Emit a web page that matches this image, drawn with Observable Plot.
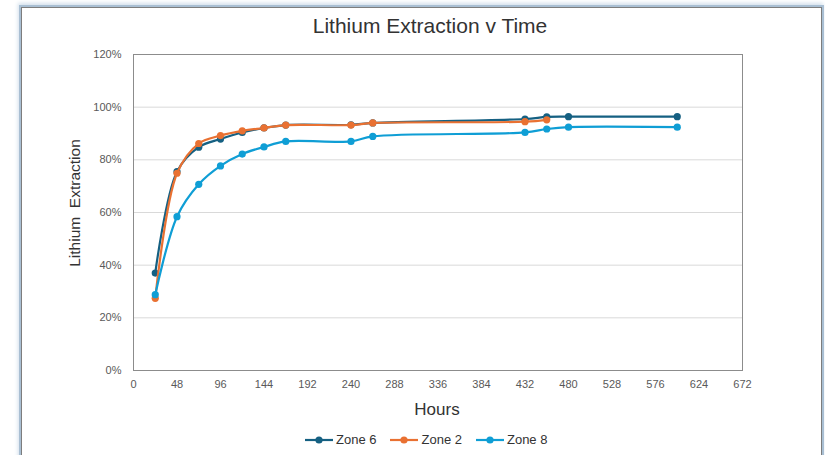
<!DOCTYPE html>
<html>
<head>
<meta charset="utf-8">
<script src="https://cdn.jsdelivr.net/npm/d3@7"></script>
<script src="https://cdn.jsdelivr.net/npm/@observablehq/plot@0.6"></script>
<style>
  html, body { margin: 0; padding: 0; background: #fff; }
  #wrap { position: relative; width: 825px; height: 455px; overflow: hidden; font-family: "Liberation Sans", Arial, sans-serif; }
  #border { position: absolute; left: 21px; top: 7px; width: 799px; height: 470px; border: 1px solid #7d7d7d; box-shadow: 0 0 0 2px #a9bfd3, -1px -2px 4px 2px #d3e0ec; pointer-events: none; }
  #title { position: absolute; left: 0; width: 860px; top: 14px; text-align: center; font-family: "Liberation Sans Narrow", "Liberation Sans", Arial, sans-serif; font-size: 21px; color: #333; }
  #ytitle { position: absolute; left: 75px; top: 203px; transform: translate(-50%, -50%) rotate(-90deg); white-space: pre; font-size: 15.5px; color: #333; }
  #xtitle { position: absolute; left: 437px; top: 410px; transform: translate(-50%, -50%); font-size: 17px; color: #333; }
  #legend { position: absolute; left: 305px; top: 432px; display: flex; align-items: center; font-size: 13px; color: #333; }
  #legend .item { display: flex; align-items: center; margin-right: 14px; }
  #legend svg { margin-right: 3px; }
  #chart { position: absolute; left: 0; top: 0; }
</style>
</head>
<body>
<div id="wrap">
  <div id="chart"></div>
  <div id="title">Lithium Extraction v Time</div>
  <div id="ytitle">Lithium  Extraction</div>
  <div id="xtitle">Hours</div>
  <div id="legend"></div>
  <div id="border"></div>
</div>
<script>
const seriesNames = ["Zone 6", "Zone 2", "Zone 8"];
const seriesColors = ["#156082", "#E97132", "#0F9ED5"];

const hoursZone6 = [24, 48, 72, 96, 120, 144, 168, 240, 264, 432, 456, 480, 600];
const zone6 = [0.370, 0.755, 0.848, 0.879, 0.904, 0.921, 0.932, 0.933, 0.940, 0.955, 0.963, 0.964, 0.964];

const hoursZone2 = [24, 48, 72, 96, 120, 144, 168, 240, 264, 432, 456];
const zone2 = [0.274, 0.749, 0.862, 0.892, 0.910, 0.921, 0.932, 0.932, 0.940, 0.945, 0.952];

const hoursZone8 = [24, 48, 72, 96, 120, 144, 168, 240, 264, 432, 456, 480, 600];
const zone8 = [0.288, 0.584, 0.707, 0.777, 0.822, 0.849, 0.870, 0.870, 0.889, 0.904, 0.917, 0.924, 0.924];

const xTicks = [0, 48, 96, 144, 192, 240, 288, 336, 384, 432, 480, 528, 576, 624, 672];
const yTicks = [0, 0.2, 0.4, 0.6, 0.8, 1.0, 1.2];

const seriesHours = [hoursZone6, hoursZone2, hoursZone8];
const seriesValues = [zone6, zone2, zone8];

const data = [];
seriesNames.forEach((name, i) => {
  seriesHours[i].forEach((h, j) => data.push({series: name, hours: h, value: seriesValues[i][j]}));
});

const lineMarks = [];
seriesNames.forEach((name, i) => {
  const d = data.filter(r => r.series === name);
  lineMarks.push(Plot.line(d, {x: "hours", y: "value", stroke: seriesColors[i], strokeWidth: 2.2, curve: "catmull-rom"}));
  lineMarks.push(Plot.dot(d, {x: "hours", y: "value", fill: seriesColors[i], r: 3.6, stroke: "none"}));
});

const chart = Plot.plot({
  width: 825,
  height: 455,
  marginLeft: 133,
  marginRight: 83,
  marginTop: 54,
  marginBottom: 85,
  style: {background: "transparent", fontFamily: "'Liberation Sans', Arial, sans-serif"},
  x: {domain: [0, 672]},
  y: {domain: [0, 1.2]},
  marks: [
    Plot.gridY(yTicks, {stroke: "#d9d9d9", strokeOpacity: 1, strokeWidth: 1}),
    Plot.frame({stroke: "#8c8c8c", strokeWidth: 1}),
    ...lineMarks,
    Plot.axisX(xTicks, {tickSize: 0, tickPadding: 10, fontSize: 11, fill: "#595959", label: null}),
    Plot.axisY(yTicks, {tickSize: 0, tickPadding: 12, fontSize: 11, fill: "#595959", tickFormat: d3.format(".0%"), label: null})
  ]
});
document.getElementById("chart").appendChild(chart);

const legend = document.getElementById("legend");
seriesNames.forEach((name, i) => {
  const item = document.createElement("div");
  item.className = "item";
  item.innerHTML = `<svg width="28" height="10"><line x1="0" y1="5" x2="28" y2="5" stroke="${seriesColors[i]}" stroke-width="2.2"/><circle cx="14" cy="5" r="3.6" fill="${seriesColors[i]}"/></svg><span>${name}</span>`;
  legend.appendChild(item);
});
</script>
</body>
</html>
